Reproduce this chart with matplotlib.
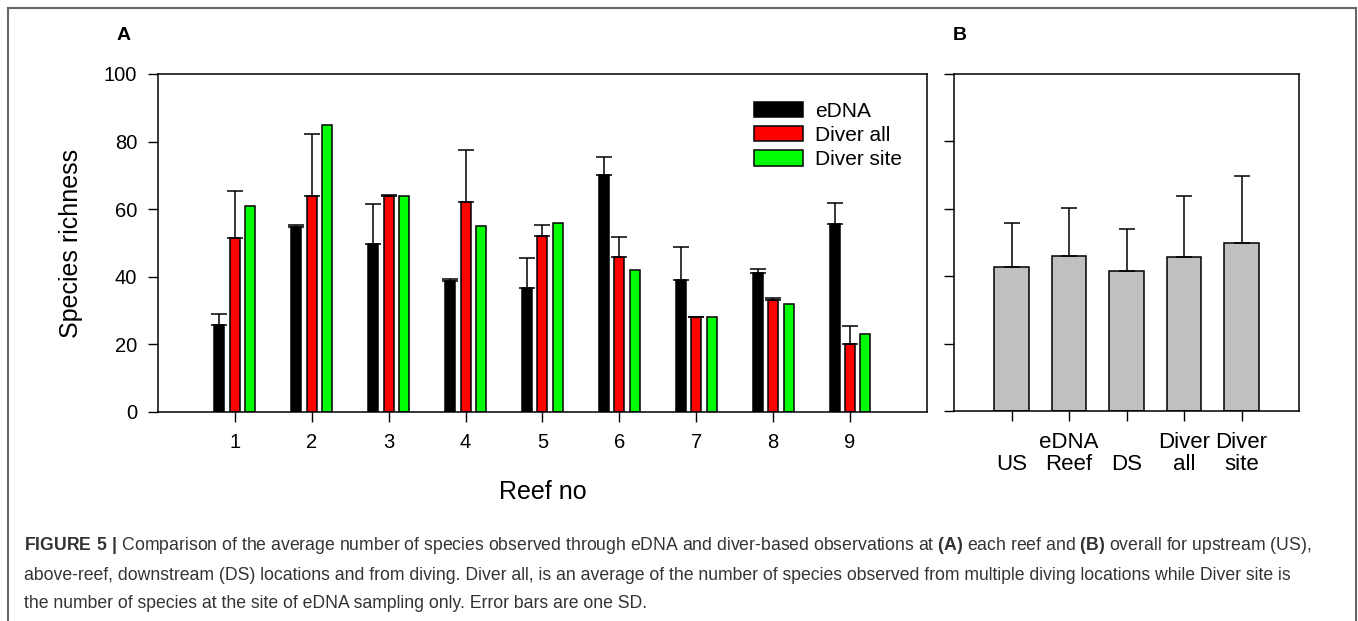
import matplotlib
matplotlib.use("Agg")
import matplotlib.pyplot as plt
from matplotlib.lines import Line2D
import numpy as np

plt.rcParams['font.family'] = ['Liberation Sans', 'DejaVu Sans']
plt.rcParams['mathtext.fontset'] = 'custom'
plt.rcParams['mathtext.rm'] = 'Liberation Sans'
plt.rcParams['mathtext.bf'] = 'Liberation Sans:bold'

# --- data, panel A (per reef) ---
reefs = [1, 2, 3, 4, 5, 6, 7, 8, 9]
edna = [25.7, 54.8, 49.7, 38.8, 36.6, 70.1, 39.1, 41.2, 55.6]
edna_sd = [3.3, 0.4, 11.8, 0.4, 9.1, 5.4, 9.7, 1.2, 6.2]
diver_all = [51.4, 64.0, 63.9, 62.2, 52.1, 45.8, 28.0, 33.1, 20.0]
diver_all_sd = [14.0, 18.2, 0.4, 15.4, 3.3, 6.0, 0.0, 0.7, 5.5]
diver_site = [61.0, 85.0, 64.0, 55.1, 56.0, 42.1, 28.0, 32.0, 23.0]

# --- data, panel B (overall) ---
groups_b = ["\nUS", "eDNA\nReef", "\nDS", "Diver\nall", "Diver\nsite"]
overall = [42.9, 46.2, 41.5, 45.9, 49.9]
overall_sd = [12.9, 14.0, 12.7, 17.8, 19.8]

fig = plt.figure(figsize=(13.58, 6.21), dpi=100)
ax_a = fig.add_axes([0.1163, 0.3366, 0.5663, 0.5443])
ax_b = fig.add_axes([0.7025, 0.3374, 0.2541, 0.5435])

x = np.array(reefs, dtype=float)
w = 0.13
off = 0.2
bar_kw = dict(edgecolor='black', linewidth=1.1)
err_kw = dict(ecolor='black', elinewidth=1.1, capsize=5.8, capthick=1.1)

ax_a.bar(x - off, edna, w, color='black', label='eDNA',
         yerr=[np.zeros(len(edna)), edna_sd], error_kw=err_kw, **bar_kw)
ax_a.bar(x, diver_all, w, color='#ff0000', label='Diver all',
         yerr=[np.zeros(len(diver_all)), diver_all_sd], error_kw=err_kw, **bar_kw)
ax_a.bar(x + off, diver_site, w, color='#00ff00', label='Diver site', **bar_kw)

ax_a.set_xlim(0, 10)
ax_a.set_ylim(0, 100)
ax_a.set_xticks(reefs)
ax_a.set_yticks([0, 20, 40, 60, 80, 100])
ax_a.tick_params(labelsize=14.5, length=7, width=1.0, direction='out', pad=8)
ax_a.set_xlabel("Reef no", fontsize=18, labelpad=20)
ax_a.set_ylabel("Species richness", fontsize=18, labelpad=15)
for s in ax_a.spines.values():
    s.set_linewidth(1.1)

ax_a.legend(loc='upper left', bbox_to_anchor=(0.775, 0.918), frameon=False,
            fontsize=15, handlelength=2.35, handleheight=0.77,
            handletextpad=0.58, labelspacing=0.25, borderpad=0, borderaxespad=0)

xb = np.arange(1, len(overall) + 1)
ax_b.bar(xb, overall, 0.6, color='#c0c0c0',
         yerr=[np.zeros(len(overall)), overall_sd], error_kw=err_kw, **bar_kw)
ax_b.set_xlim(0, 6)
ax_b.set_ylim(0, 100)
ax_b.set_xticks(xb)
ax_b.set_xticklabels(groups_b, fontsize=16, linespacing=1.05)
ax_b.set_yticks([0, 20, 40, 60, 80, 100])
ax_b.set_yticklabels([])
ax_b.tick_params(length=7, width=1.0, direction='out', pad=8)
for s in ax_b.spines.values():
    s.set_linewidth(1.1)

# panel letters
fig.text(124 / 1358, 1 - 36 / 621, "A", fontsize=14, fontweight='bold',
         ha='center', va='center')
fig.text(960 / 1358, 1 - 36 / 621, "B", fontsize=14, fontweight='bold',
         ha='center', va='center')

# caption
cap_color = '#333333'
caption = [
    r"$\bf{FIGURE\ 5\ |}$ Comparison of the average number of species observed through eDNA and diver-based observations at $\bf{(A)}$ each reef and $\bf{(B)}$ overall for upstream (US),",
    "above-reef, downstream (DS) locations and from diving. Diver all, is an average of the number of species observed from multiple diving locations while Diver site is",
    "the number of species at the site of eDNA sampling only. Error bars are one SD.",
]
for i, line in enumerate(caption):
    fig.text(24 / 1358, 1 - (546 + 29 * i) / 621, line, fontsize=12.7,
             color=cap_color, ha='left', va='center')

# outer frame (open at the bottom)
frame = dict(color='#666666', linewidth=1.5, transform=fig.transFigure)
fig.add_artist(Line2D([8 / 1358, 8 / 1358], [0, 1 - 8 / 621], **frame))
fig.add_artist(Line2D([8 / 1358, 1356 / 1358], [1 - 8 / 621, 1 - 8 / 621], **frame))
fig.add_artist(Line2D([1356 / 1358, 1356 / 1358], [0, 1 - 8 / 621], **frame))

fig.savefig("out.png", dpi=100)
